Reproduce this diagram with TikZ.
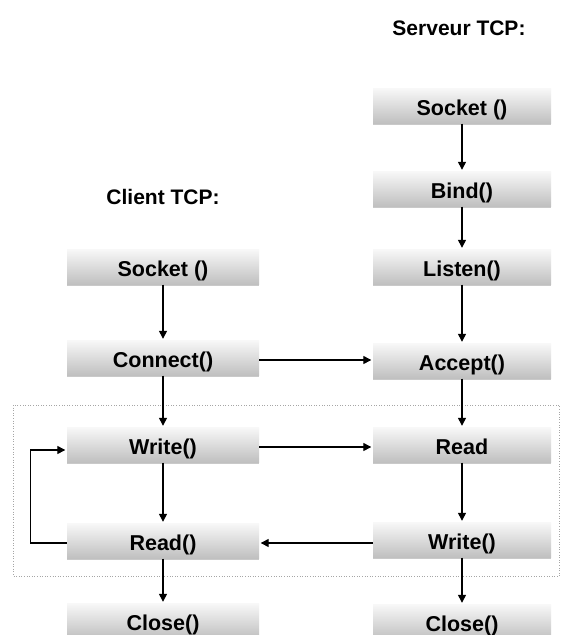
\documentclass[tikz,border=0pt]{standalone}
\usepackage{fontspec}
\setmainfont{Liberation Sans}
\usetikzlibrary{arrows.meta,shadows,calc}
\begin{document}
\begin{tikzpicture}[x=1pt,y=-1pt,
  fn/.style={rectangle, minimum height=35pt, inner sep=0pt,
    text height=19.5pt, text depth=0pt,
    top color=black!3, bottom color=black!25, draw=none,
    drop shadow={shadow xshift=0.3pt, shadow yshift=-1.5pt, opacity=0.35, fill=black!60},
    font=\bfseries\fontsize{21.5}{25}\selectfont},
  cl/.style={fn, minimum width=192pt},
  sv/.style={fn, minimum width=178pt},
  ttl/.style={font=\bfseries\fontsize{21}{25}\selectfont},
  arr/.style={line width=1.3pt, -{Triangle[width=8pt,length=8pt]}, shorten >=1.5pt},
  ln/.style={line width=1.3pt}]
\useasboundingbox (0,0) rectangle (560,635);
\clip (0,0) rectangle (560,635);
\fill[white] (0,0) rectangle (560,635);
% dotted frame
\draw[black!35, dotted, line width=0.6pt] (13,405) rectangle (559.5,576);
% titles
\node[ttl] (ts) at (459,28) {Serveur TCP:};
\node[ttl] (tc) at (163,197) {Client TCP:};
% server
\node[sv] (ssock) at (462,106) {Socket ()};
\node[sv] (sbind) at (462,189) {Bind()};
\node[sv] (slist) at (462,267) {Listen()};
\node[sv] (sacc) at (462,361) {Accept()};
\node[sv] (sread) at (462,445) {Read};
\node[sv] (swrite) at (462,540) {Write()};
\node[sv] (sclose) at (462,622) {Close()};
% client
\node[cl] (csock) at (163,267) {Socket ()};
\node[cl] (cconn) at (163,358) {Connect()};
\node[cl] (cwrite) at (163,445) {Write()};
\node[cl] (cread) at (163,541) {Read()};
\node[cl] (cclose) at (163,621) {Close()};
% vertical arrows
\draw[arr] (ssock) -- (sbind);
\draw[arr] (sbind) -- (slist);
\draw[arr] (slist) -- (sacc);
\draw[arr] (sacc) -- (sread);
\draw[arr] (sread) -- (swrite);
\draw[arr] (swrite) -- (sclose);
\draw[arr] (csock) -- (cconn);
\draw[arr] (cconn) -- (cwrite);
\draw[arr] (cwrite) -- (cread);
\draw[arr] (cread) -- (cclose);
% horizontal arrows
\draw[arr] ([yshift=-2pt]cconn.east) -- ([yshift=-2pt]cconn.east -| sacc.west);
\draw[arr] ([yshift=-2pt]cwrite.east) -- ([yshift=-2pt]cwrite.east -| sread.west);
\draw[arr] ([yshift=-3pt]swrite.west) -- ([yshift=-3pt]swrite.west -| cread.east);
% loop
\coordinate (lb) at ($(cread.west)+(-36pt,-2pt)$);
\draw[arr] ([yshift=-2pt]cread.west) -- (lb) |- ([yshift=-5pt]cwrite.west);
\end{tikzpicture}
\end{document}
